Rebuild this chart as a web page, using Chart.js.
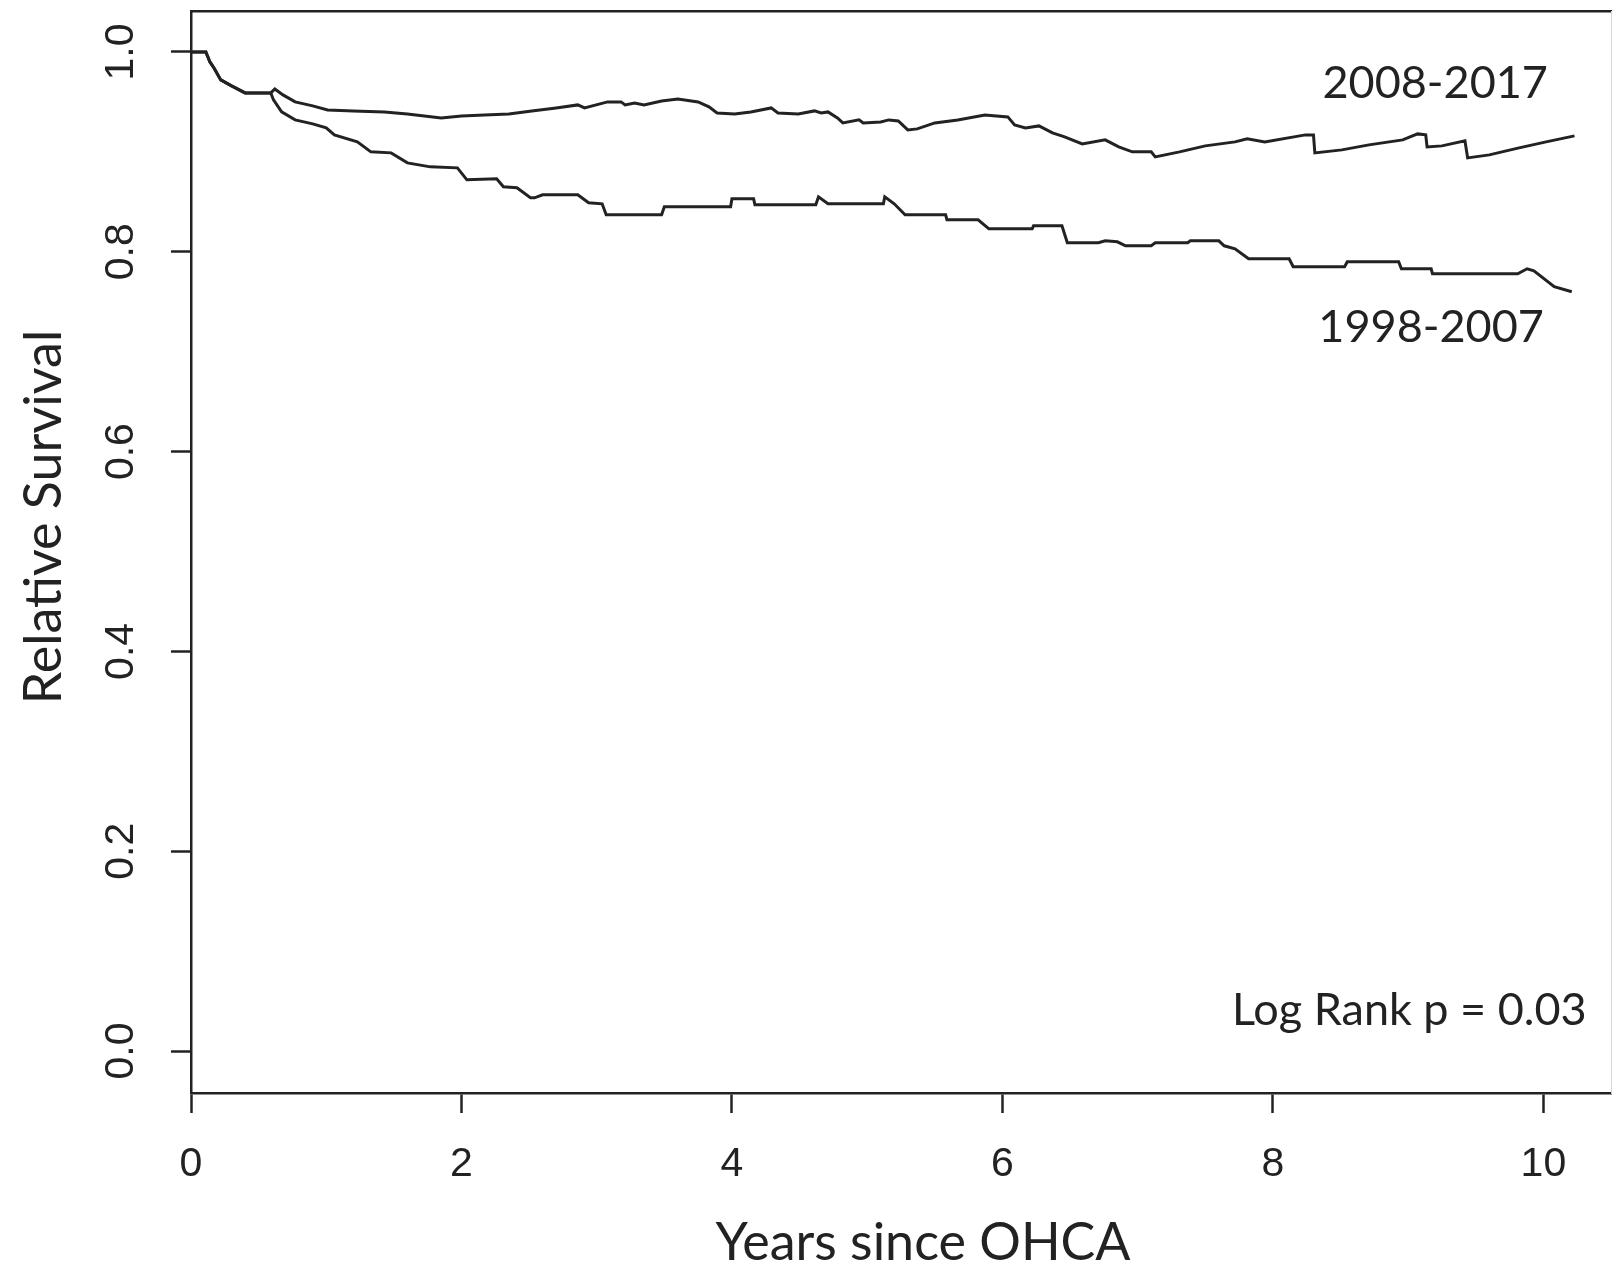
<!DOCTYPE html>
<html>
<head>
<meta charset="utf-8">
<title>Relative Survival after OHCA</title>
<script src="https://cdn.jsdelivr.net/npm/chart.js@4/dist/chart.umd.min.js"></script>
<style>
  body { margin: 0; background: #fff; }
  #wrap { width: 1620px; height: 1271px; position: relative; }
</style>
</head>
<body>
<div id="wrap"><canvas id="chartSurvival"></canvas></div>
<script>
// Kurva 2008-2017 (atas)
const lateYears = [0, 0.11, 0.14, 0.17, 0.22, 0.30, 0.40, 0.59, 0.62, 0.68, 0.77, 0.90, 1.01, 1.20, 1.43, 1.60, 1.85, 2.00, 2.17, 2.35,
	2.52, 2.70, 2.86, 2.91, 3.08, 3.18, 3.21, 3.28, 3.35, 3.48, 3.60, 3.75, 3.83, 3.89, 4.02, 4.14, 4.29, 4.34, 4.49, 4.61,
	4.66, 4.71, 4.78, 4.82, 4.94, 4.97, 5.10, 5.16, 5.23, 5.30, 5.37, 5.50, 5.67, 5.87, 6.04, 6.09, 6.17, 6.27, 6.37, 6.46,
	6.59, 6.76, 6.86, 6.96, 7.10, 7.13, 7.31, 7.50, 7.72, 7.81, 7.94, 8.24, 8.30, 8.31, 8.51, 8.71, 8.96, 9.07, 9.13, 9.14,
	9.25, 9.42, 9.44, 9.60, 9.82, 10.02, 10.23];
const lateSurv = [1.000, 1.000, 0.990, 0.984, 0.972, 0.966, 0.959, 0.959, 0.963, 0.957, 0.950, 0.946, 0.942, 0.941, 0.940, 0.938, 0.934, 0.936, 0.937, 0.938,
	0.941, 0.944, 0.947, 0.944, 0.950, 0.950, 0.947, 0.949, 0.947, 0.951, 0.953, 0.950, 0.945, 0.939, 0.938, 0.940, 0.944, 0.939, 0.938, 0.941,
	0.939, 0.940, 0.934, 0.929, 0.932, 0.929, 0.930, 0.932, 0.931, 0.922, 0.923, 0.929, 0.932, 0.937, 0.935, 0.927, 0.924, 0.926, 0.919, 0.915,
	0.908, 0.912, 0.905, 0.900, 0.900, 0.895, 0.900, 0.906, 0.910, 0.913, 0.910, 0.917, 0.917, 0.899, 0.902, 0.907, 0.912, 0.918, 0.917, 0.905,
	0.906, 0.911, 0.894, 0.897, 0.904, 0.910, 0.916];

// Kurva 1998-2007 (bawah)
const earlyYears = [0, 0.11, 0.14, 0.17, 0.22, 0.30, 0.40, 0.59, 0.61, 0.67, 0.77, 0.90, 1.00, 1.06, 1.23, 1.33, 1.48, 1.60, 1.77, 1.97,
	2.04, 2.26, 2.31, 2.41, 2.51, 2.54, 2.60, 2.86, 2.94, 3.04, 3.07, 3.48, 3.50, 3.99, 4.00, 4.16, 4.17, 4.62, 4.64, 4.71,
	5.12, 5.13, 5.20, 5.28, 5.58, 5.59, 5.82, 5.90, 6.22, 6.23, 6.44, 6.48, 6.71, 6.76, 6.85, 6.91, 7.10, 7.13, 7.37, 7.39,
	7.60, 7.64, 7.72, 7.82, 8.12, 8.15, 8.53, 8.55, 8.93, 8.95, 9.17, 9.18, 9.81, 9.88, 9.93, 10.08, 10.21];
const earlySurv = [1.000, 1.000, 0.990, 0.984, 0.972, 0.966, 0.959, 0.959, 0.952, 0.940, 0.932, 0.928, 0.924, 0.917, 0.910, 0.900, 0.899, 0.889, 0.885, 0.884,
	0.872, 0.873, 0.865, 0.864, 0.854, 0.854, 0.857, 0.857, 0.849, 0.848, 0.837, 0.837, 0.845, 0.845, 0.853, 0.853, 0.847, 0.847, 0.855, 0.848,
	0.848, 0.855, 0.848, 0.837, 0.837, 0.832, 0.832, 0.823, 0.823, 0.826, 0.826, 0.809, 0.809, 0.811, 0.810, 0.806, 0.806, 0.809, 0.809, 0.811,
	0.811, 0.806, 0.803, 0.793, 0.793, 0.785, 0.785, 0.790, 0.790, 0.783, 0.783, 0.778, 0.778, 0.783, 0.781, 0.765, 0.760];

const groupLabels = ["2008-2017", "1998-2007"];
const xTickValues = [0, 2, 4, 6, 8, 10];
const yTickValues = [0, 0.2, 0.4, 0.6, 0.8, 1.0];
const xTitle = "Years since OHCA";
const yTitle = "Relative Survival";
const pValueText = "Log Rank p = 0.03";

const ink = "#222";
const tickFont = { family: "'Liberation Sans', Arial, sans-serif", size: 41 };

// Teks di dalam plot (posisi dalam satuan data)
const plotNotes = [
	{ text: groupLabels[0], x: 9.20, y: 0.954, align: "center" },
	{ text: groupLabels[1], x: 9.17, y: 0.710, align: "center" },
	{ text: pValueText, x: 10.32, y: 0.026, align: "right" },
];

function toPoints(xs, ys) {
	return xs.map((t, i) => ({ x: t, y: ys[i] }));
}

// Buang padding label supaya area plot tidak menyusut
function noLabelPadding(scale) {
	scale.paddingTop = 0;
	scale.paddingBottom = 0;
	scale.paddingLeft = 0;
	scale.paddingRight = 0;
}

// Plugin sederhana untuk judul sumbu dan catatan teks
const notesPlugin = {
	id: "notes",
	afterDraw(chart) {
		const ctx = chart.ctx;
		const sx = chart.scales.x;
		const sy = chart.scales.y;
		const area = chart.chartArea;
		ctx.save();
		ctx.fillStyle = ink;
		ctx.font = "45px Lato";
		ctx.textBaseline = "alphabetic";
		plotNotes.forEach((n) => {
			ctx.textAlign = n.align;
			ctx.fillText(n.text, sx.getPixelForValue(n.x), sy.getPixelForValue(n.y));
		});

		ctx.font = "52px Lato";
		ctx.textAlign = "center";
		ctx.fillText(xTitle, (area.left + area.right) / 2 + 22, chart.height - 11);

		ctx.translate(61, (area.top + area.bottom) / 2 - 35);
		ctx.rotate(-Math.PI / 2);
		ctx.fillText(yTitle, 0, 0);
		ctx.restore();
	},
};

const lineStyle = {
	borderColor: ink,
	borderWidth: 3,
	pointRadius: 0,
	tension: 0,
	fill: false,
};

new Chart(document.getElementById("chartSurvival"), {
	type: "line",
	data: {
		datasets: [
			{ label: groupLabels[0], data: toPoints(lateYears, lateSurv), ...lineStyle },
			{ label: groupLabels[1], data: toPoints(earlyYears, earlySurv), ...lineStyle },
		],
	},
	options: {
		responsive: true,
		maintainAspectRatio: false,
		animation: false,
		layout: { padding: 0 },
		plugins: {
			legend: { display: false },
			tooltip: { enabled: false },
		},
		scales: {
			x: {
				type: "linear",
				position: "bottom",
				min: 0,
				max: 10.5,
				afterBuildTicks: (scale) => {
					scale.ticks = xTickValues.map((v) => ({ value: v }));
				},
				afterFit: (scale) => {
					scale.height = 178;
					noLabelPadding(scale);
				},
				border: { color: ink, width: 2.5 },
				grid: { drawOnChartArea: false, drawTicks: true, tickLength: 20, tickColor: ink, tickWidth: 2.5 },
				ticks: { color: ink, font: tickFont, padding: 27, maxRotation: 0, callback: (v) => String(v) },
			},
			y: {
				type: "linear",
				position: "left",
				min: -0.042,
				max: 1.041,
				afterBuildTicks: (scale) => {
					scale.ticks = yTickValues.map((v) => ({ value: v }));
				},
				afterFit: (scale) => {
					scale.width = 191;
					noLabelPadding(scale);
				},
				border: { color: ink, width: 2.5 },
				grid: { drawOnChartArea: false, drawTicks: true, tickLength: 20, tickColor: ink, tickWidth: 2.5 },
				ticks: {
					color: ink,
					font: tickFont,
					padding: 21,
					minRotation: 90,
					maxRotation: 90,
					crossAlign: "center",
					callback: (v) => v.toFixed(1),
				},
			},
			x2: {
				type: "linear",
				position: "top",
				min: 0,
				max: 10.5,
				afterFit: (scale) => {
					scale.height = 11;
					noLabelPadding(scale);
				},
				border: { color: ink, width: 2.5 },
				grid: { display: false },
				ticks: { display: false },
			},
			y2: {
				type: "linear",
				position: "right",
				min: -0.042,
				max: 1.041,
				afterFit: (scale) => {
					scale.width = 9;
					noLabelPadding(scale);
				},
				border: { color: "#d6d6d6", width: 1 },
				grid: { display: false },
				ticks: { display: false },
			},
		},
	},
	plugins: [notesPlugin],
});
</script>
</body>
</html>
